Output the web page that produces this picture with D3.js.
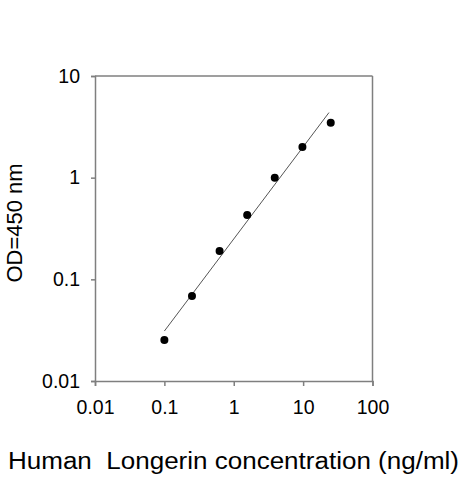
<!DOCTYPE html>
<html>
<head>
<meta charset="utf-8">
<script src="https://cdn.jsdelivr.net/npm/d3@7"></script>
<style>
  body { margin: 0; background: #fff; }
  text { font-family: Arial, "Liberation Sans", sans-serif; fill: #000; }
</style>
</head>
<body>
<svg id="chart" width="463" height="480"></svg>
<script>
// standard curve points
const concentrations = [0.1, 0.25, 0.625, 1.5625, 3.9, 9.77, 25]
const odValues = [0.0253, 0.0687, 0.19, 0.43, 1.0, 2.0, 3.46]

// fitted line endpoints
const fitX = [0.1, 23.6]
const fitY = [0.031, 4.37]

const xTicks = [0.01, 0.1, 1, 10, 100]
const yTicks = [0.01, 0.1, 1, 10]

const svg = d3.select('#chart')

const x = d3.scaleLog().domain([0.01, 100]).range([95, 372.5])
const y = d3.scaleLog().domain([0.01, 10]).range([381, 76])

const axisColor = '#7f7f7f'

// frame: top and right lines
svg.append('line')
  .attr('x1', x(0.01)).attr('x2', x(100))
  .attr('y1', y(10)).attr('y2', y(10))
  .attr('stroke', axisColor).attr('stroke-width', 1.5)
svg.append('line')
  .attr('x1', x(100)).attr('x2', x(100))
  .attr('y1', y(10)).attr('y2', y(0.01))
  .attr('stroke', axisColor).attr('stroke-width', 1.5)

const fmt = d => String(d)

const xAxis = svg.append('g')
  .attr('transform', `translate(0,${y(0.01)})`)
  .call(d3.axisBottom(x).tickValues(xTicks).tickFormat(fmt).tickSize(5).tickPadding(14))
const yAxis = svg.append('g')
  .attr('transform', `translate(${x(0.01)},0)`)
  .call(d3.axisLeft(y).tickValues(yTicks).tickFormat(fmt).tickSize(4).tickPadding(11))

;[xAxis, yAxis].forEach(a => {
  a.select('.domain').attr('stroke', axisColor).attr('stroke-width', 1.5)
  a.selectAll('.tick line').attr('stroke', axisColor).attr('stroke-width', 1.5)
  a.selectAll('.tick text').attr('font-size', '19.5px').attr('fill', '#000')
    .attr('font-family', 'Arial, "Liberation Sans", sans-serif')
})

// regression line
svg.append('line')
  .attr('x1', x(fitX[0])).attr('y1', y(fitY[0]))
  .attr('x2', x(fitX[1])).attr('y2', y(fitY[1]))
  .attr('stroke', '#555').attr('stroke-width', 1)

// points
svg.selectAll('circle.pt')
  .data(concentrations)
  .enter().append('circle')
  .attr('class', 'pt')
  .attr('cx', d => x(d))
  .attr('cy', (d, i) => y(odValues[i]))
  .attr('r', 4)
  .attr('fill', '#000')

// axis titles
svg.append('text')
  .attr('x', 8)
  .attr('y', 469)
  .attr('font-size', '23px')
  .attr('textLength', 451)
  .attr('lengthAdjust', 'spacingAndGlyphs')
  .attr('xml:space', 'preserve')
  .text('Human  Longerin concentration (ng/ml)')

svg.append('text')
  .attr('transform', 'translate(22,223) rotate(-90)')
  .attr('text-anchor', 'middle')
  .attr('font-size', '22px')
  .text('OD=450 nm')
</script>
</body>
</html>
